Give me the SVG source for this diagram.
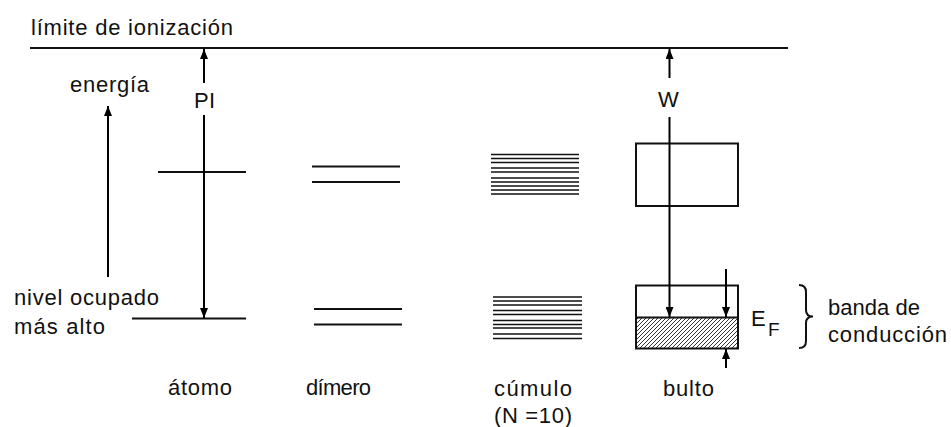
<svg xmlns="http://www.w3.org/2000/svg" width="951" height="427" viewBox="0 0 951 427">
<style>
text{font-family:"Liberation Sans",Arial,sans-serif;font-size:22px;fill:#111}
.ln{stroke:#111;stroke-width:2;fill:none}
.thin{stroke:#111;stroke-width:1.6;fill:none}
.ar{stroke:#000;stroke-width:2;fill:none}
</style>
<defs>
<marker id="ah" viewBox="0 0 10 8" refX="10" refY="4" markerWidth="10" markerHeight="8" markerUnits="userSpaceOnUse" orient="auto">
<path d="M0,0 L10,4 L0,8 Z" fill="#000"/>
</marker>
<pattern id="hatch" patternUnits="userSpaceOnUse" width="4" height="4">
<rect width="4" height="4" fill="#fff"/>
<path d="M-1,1 L1,-1 M0,4 L4,0 M3,5 L5,3" stroke="#333" stroke-width="1"/>
</pattern>
</defs>

<g id="ionization-limit">
<line class="ln" x1="30" y1="48" x2="788" y2="48"/>
<text x="31" y="35" textLength="202">límite de ionización</text>
</g>

<g id="energy-axis">
<text x="70" y="92" textLength="79">energía</text>
</g>

<g id="labels-left">
<text x="14" y="305" textLength="145">nivel ocupado</text>
<text x="14" y="334" textLength="91">más alto</text>
</g>

<g id="atomo">
<line class="ln" x1="158" y1="172" x2="246" y2="172"/>
<line class="ln" x1="132" y1="318.5" x2="246" y2="318.5"/>
<text x="168" y="395" textLength="64">átomo</text>
<text x="194" y="108" textLength="21">PI</text>
</g>

<g id="dimero">
<line class="ln" x1="312" y1="166.5" x2="400" y2="166.5"/>
<line class="ln" x1="312" y1="182" x2="400" y2="182"/>
<line class="ln" x1="314" y1="309" x2="402" y2="309"/>
<line class="ln" x1="314" y1="324.5" x2="402" y2="324.5"/>
<text x="306" y="395" textLength="65">dímero</text>
</g>

<g id="cumulo">
<g class="thin">
<line x1="491" y1="154.5" x2="579" y2="154.5"/>
<line x1="491" y1="158.5" x2="579" y2="158.5"/>
<line x1="491" y1="162.5" x2="579" y2="162.5"/>
<line x1="491" y1="168" x2="579" y2="168"/>
<line x1="491" y1="172" x2="579" y2="172"/>
<line x1="491" y1="178" x2="579" y2="178"/>
<line x1="491" y1="182" x2="579" y2="182"/>
<line x1="491" y1="186" x2="579" y2="186"/>
<line x1="491" y1="190" x2="579" y2="190"/>
<line x1="491" y1="194" x2="579" y2="194"/>
<line x1="493" y1="297" x2="582" y2="297"/>
<line x1="493" y1="301" x2="582" y2="301"/>
<line x1="493" y1="305" x2="582" y2="305"/>
<line x1="493" y1="310.5" x2="582" y2="310.5"/>
<line x1="493" y1="314.5" x2="582" y2="314.5"/>
<line x1="493" y1="320.5" x2="582" y2="320.5"/>
<line x1="493" y1="324.5" x2="582" y2="324.5"/>
<line x1="493" y1="328" x2="582" y2="328"/>
<line x1="493" y1="334" x2="582" y2="334"/>
<line x1="493" y1="338.5" x2="582" y2="338.5"/>
</g>
<text x="494" y="396" textLength="78">cúmulo</text>
<text x="494" y="423" textLength="78">(N =10)</text>
</g>

<g id="bulto">
<rect class="ln" x="636" y="143.5" width="102" height="62.5"/>
<rect x="636" y="317.5" width="102" height="31" fill="url(#hatch)"/>
<rect class="ln" x="636" y="285.5" width="102" height="63"/>
<line class="ln" x1="636" y1="317.5" x2="738" y2="317.5"/>
<text x="663" y="396" textLength="51">bulto</text>
<text x="658" y="107" textLength="23">W</text>
<text x="751" y="326" style="font-size:22px">E</text>
<text x="768" y="336" style="font-size:19px">F</text>
<path class="ln" d="M799,285 Q806,285 806,292 L806,310 Q806,316.5 813,316.5 Q806,316.5 806,323 L806,341 Q806,348 799,348" stroke-width="1.8"/>
<text x="828" y="315" textLength="92">banda de</text>
<text x="828" y="342" textLength="119">conducción</text>
</g>

<g id="connectors">
<line class="ar" x1="108" y1="277" x2="108" y2="106" marker-end="url(#ah)"/>
<line class="ar" x1="204" y1="83" x2="204" y2="49" marker-end="url(#ah)"/>
<line class="ar" x1="204" y1="115" x2="204" y2="318" marker-end="url(#ah)"/>
<line class="ar" x1="669.5" y1="78" x2="669.5" y2="49" marker-end="url(#ah)"/>
<line class="ar" x1="669.5" y1="117" x2="669.5" y2="317" marker-end="url(#ah)"/>
<line class="ar" x1="726" y1="269" x2="726" y2="317" marker-end="url(#ah)"/>
<line class="ar" x1="726" y1="368" x2="726" y2="349" marker-end="url(#ah)"/>
</g>
</svg>
